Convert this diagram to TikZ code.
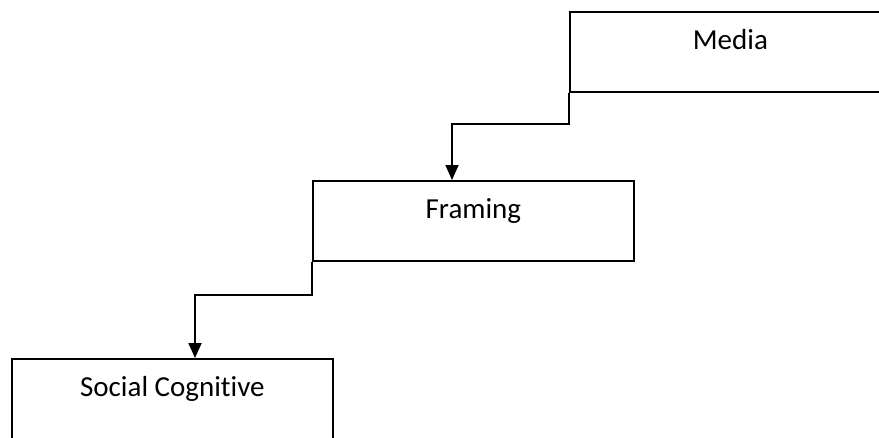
\documentclass[tikz,border=0pt]{standalone}
\usepackage{fontspec}
\setmainfont{Carlito}[Ligatures=NoCommon]
\usetikzlibrary{arrows.meta, positioning}

\begin{document}
\begin{tikzpicture}[x=1pt, y=-1pt, >={Triangle[width=13pt, length=15pt]}, line width=1.8pt,
    box/.style={rectangle, draw, anchor=north west, minimum width=321pt, inner sep=0pt,
        text height=38pt, text depth=42pt, font=\fontsize{29}{33}\selectfont}]

        \useasboundingbox (0,0) rectangle (879,437);
        \clip (0,0) rectangle (879,437);

        \node[box] (M) at (569,11) {Media};
        \node[box] (F) at (312,180) {Framing};
        \node[box] (S) at (11,358) {Social Cognitive};

        \coordinate (f0) at (452,180);
        \coordinate (s0) at (195,358);

        \draw[->] (M.south west) -- ++(0,31) -| (f0);
        \draw[->] (F.south west) -- ++(0,33) -| (s0);

    \end{tikzpicture}
\end{document}
